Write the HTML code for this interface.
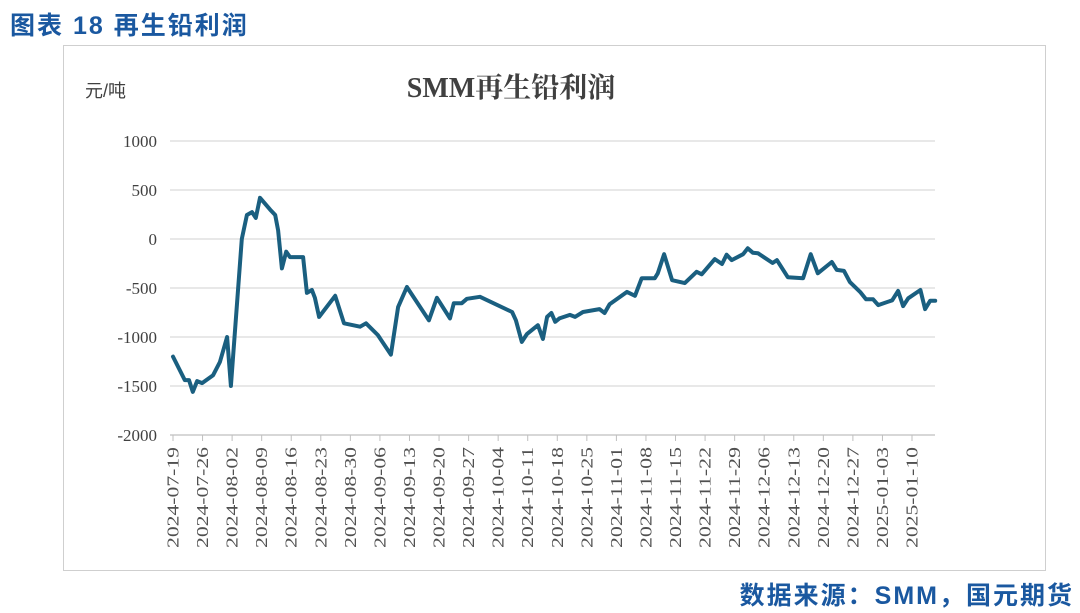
<!DOCTYPE html>
<html><head><meta charset="utf-8"><style>
body{margin:0;width:1080px;height:613px;background:#fff;overflow:hidden;position:relative;font-family:"Liberation Sans","Noto Sans CJK SC",sans-serif}
#hdr{position:absolute;left:10px;top:6px;font-size:25px;font-weight:bold;color:#1a58a0;letter-spacing:2px}
#ftr{position:absolute;right:6px;top:576px;font-size:25px;font-weight:bold;color:#1a58a0;letter-spacing:2px}
#box{position:absolute;left:63px;top:45px;width:981px;height:524px;border:1px solid #cfcfcf}
</style></head><body>
<div id="hdr">图表 18 再生铅利润</div>
<div id="box"></div>
<svg id="chart" width="1080" height="613" style="position:absolute;left:0;top:0">
<text x="511" y="97" text-anchor="middle" font-family="Liberation Serif,'Noto Serif CJK SC',serif" font-weight="bold" font-size="28" fill="#404040">SMM再生铅利润</text>
<text x="85" y="97" font-family="'Liberation Sans','Noto Sans CJK SC',sans-serif" font-size="18" fill="#404040">元/吨</text>
</svg>
<div id="ftr">数据来源：SMM，国元期货</div>
<script>
const yTicks=[1000,500,0,-500,-1000,-1500,-2000];
const xLabels=["2024-07-19","2024-07-26","2024-08-02","2024-08-09","2024-08-16","2024-08-23","2024-08-30","2024-09-06","2024-09-13","2024-09-20","2024-09-27","2024-10-04","2024-10-11","2024-10-18","2024-10-25","2024-11-01","2024-11-08","2024-11-15","2024-11-22","2024-11-29","2024-12-06","2024-12-13","2024-12-20","2024-12-27","2025-01-03","2025-01-10"];
const days=[0,2.8,3.8,4.7,5.7,6.9,9.5,11.1,12.8,13.7,16.3,17.5,18.7,19.6,20.6,23,24.2,24.9,25.8,26.8,27.7,30.8,31.7,32.9,33.6,34.6,38.4,40.5,44.3,45.7,48.5,51.6,53.3,55.4,60.6,62.5,65.6,66.5,68.4,69.6,72.7,80.3,81.2,82.6,83.8,86.4,87.6,88.6,89.6,90.5,91.5,94,95.2,97.1,101,102.2,103.4,107.5,109.4,111,114.1,114.8,116.3,118.2,121.2,124,125.2,128.3,130,131.1,132.3,135,136.1,137.3,138.5,142,143,145.6,149.2,151,152.7,156,157.2,158.9,160.3,162.7,164.1,165.8,167,170.3,171.7,172.9,174.1,177,178.1,179.3,180.5];
const profit=[-1200,-1440,-1440,-1560,-1450,-1470,-1390,-1255,-1000,-1500,0,245,275,215,420,300,245,90,-300,-130,-185,-185,-550,-520,-600,-795,-580,-860,-895,-860,-980,-1180,-695,-490,-830,-600,-810,-655,-655,-610,-590,-745,-830,-1050,-970,-880,-1020,-795,-755,-845,-810,-775,-795,-745,-715,-755,-665,-540,-580,-400,-400,-350,-155,-420,-450,-335,-360,-205,-255,-160,-215,-155,-95,-140,-145,-245,-215,-390,-400,-155,-350,-235,-315,-325,-440,-540,-615,-615,-675,-625,-530,-685,-605,-520,-715,-630,-630];
const svg=document.getElementById('chart');const NS='http://www.w3.org/2000/svg';
const X0=170,X1=935,xl0=173,pxDay=739/175;
const yS=v=>239-v*49/500;
const xS=d=>xl0+d*pxDay;
function mk(t,a){const e=document.createElementNS(NS,t);for(const k in a)e.setAttribute(k,a[k]);svg.appendChild(e);return e;}
yTicks.forEach(v=>{
 if(v>-2000){const g=mk('line',{x1:X0,x2:X1,y1:yS(v),y2:yS(v),stroke:'#d9d9d9','stroke-width':1.3});
 
 }
 const t=mk('text',{x:157,y:yS(v)+6,'text-anchor':'end','font-size':17,'font-family':'Liberation Serif,serif',fill:'#404040'});
 t.textContent=v;
 
 
});
const ax=mk('line',{x1:X0,x2:X1,y1:yS(-2000),y2:yS(-2000),stroke:'#bfbfbf','stroke-width':1.3});


xLabels.forEach((s,i)=>{
 const x=xS(i*7);
 const tk=mk('line',{x1:x,x2:x,y1:yS(-2000),y2:yS(-2000)+6,stroke:'#bfbfbf'});
 
 
 const t=mk('text',{x:0,y:0,'text-anchor':'end','font-size':16.5,'font-family':'Liberation Serif,serif',fill:'#505050',textLength:101,lengthAdjust:'spacingAndGlyphs',transform:`translate(${x+5.5},447) rotate(-90)`});
 t.textContent=s;
 
 
});
const p=mk('polyline',{points:days.map((d,i)=>xS(d).toFixed(1)+','+yS(profit[i]).toFixed(1)).join(' '),fill:'none',stroke:'#1a5f80','stroke-width':4,'stroke-linejoin':'round','stroke-linecap':'round'});


</script>
</body></html>
